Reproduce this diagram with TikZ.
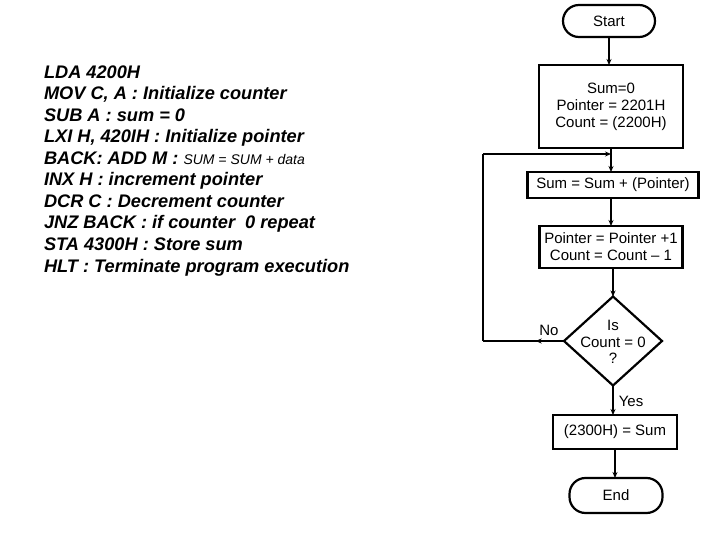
\documentclass[tikz,border=0pt]{standalone}
\usepackage{fontspec}
\setmainfont{Liberation Sans}
\usetikzlibrary{shapes.geometric,arrows.meta,decorations.markings}
\begin{document}
\begin{tikzpicture}[x=1pt,y=-1pt,
  every node/.style={inner sep=0pt,outer sep=0pt},
  code/.style={anchor=base west,font=\fontsize{18.2}{21}\selectfont\bfseries\itshape},
  blk/.style={draw,line width=2.2pt,align=center,font=\fontsize{15}{17}\selectfont,fill=white},
  term/.style={draw,line width=2.2pt,rounded corners=16pt,font=\fontsize{15}{17}\selectfont,fill=white},
  flow/.style={line width=1.4pt,-{Stealth[length=6pt,width=5pt]}},
  plain/.style={line width=1.4pt},
  lbl/.style={font=\fontsize{15}{17}\selectfont}]
\path[fill=white] (0,0) rectangle (720,540);
\useasboundingbox (0,0) rectangle (720,540);
% code listing
\node[code] (c1) at (44,78.5) {LDA 4200H};
\node[code] (c2) at (44,100) {MOV C, A : Initialize counter};
\node[code] (c3) at (44,121.5) {SUB A : sum = 0};
\node[code] (c4) at (44,143) {LXI H, 420IH : Initialize pointer};
\node[code] (c5) at (44,164.5) {BACK: ADD M : {\fontsize{14}{16}\selectfont\mdseries SUM = SUM + data}};
\node[code] (c6) at (44,186) {INX H : increment pointer};
\node[code] (c7) at (44,207.5) {DCR C : Decrement counter};
\node[code] (c8) at (44,229) {JNZ BACK : if counter\ \ 0 repeat};
\node[code] (c9) at (44,250.5) {STA 4300H : Store sum};
\node[code] (c10) at (44,272) {HLT : Terminate program execution};
% flowchart
\node[term,minimum width=92pt,minimum height=32pt] (start) at (609,21) {Start};
\node[blk,minimum width=144pt,minimum height=83pt] (init) at (611,106.5) {Sum=0\\Pointer = 2201H\\Count = (2200H)};
\node[blk,minimum width=171pt,minimum height=26pt] (add) at (613,185) {Sum = Sum + (Pointer)};
\node[blk,minimum width=143pt,minimum height=42pt] (inc) at (611,247) {Pointer = Pointer +1\\Count = Count -- 1};
\node[diamond,draw,line width=2.2pt,minimum width=98pt,minimum height=89pt,fill=white] (dec) at (613,341) {};
\node[align=center,font=\fontsize{15}{16.5}\selectfont] (dectext) at (613,342) {Is\\Count = 0\\?};
\node[blk,minimum width=124pt,minimum height=34pt] (store) at (615,432) {(2300H) = Sum};
\node[term,minimum width=93pt,minimum height=35pt] (end) at (616,495.5) {End};
\coordinate (join) at (611,154);
\coordinate (lb) at (483,341);
\coordinate (lt) at (483,154);
\draw[flow] (start.south) -- (start.south |- init.north);
\draw[plain] (init.south) -- (join);
\draw[flow] (join) -- (join |- add.north);
\draw[flow] (inc.north |- add.south) -- (inc.north);
\draw[flow] (dec.north |- inc.south) -- (dec.north);
\draw[plain,decoration={markings,mark=at position 0.35 with {\arrow{Stealth[length=6pt,width=5pt]}}},postaction={decorate}] (dec.west) -- (lb);
\draw[plain] (lb) -- (lt);
\draw[flow] (lt) -- (join);
\draw[flow] (dec.south) -- (dec.south |- store.north);
\draw[flow] (store.south) -- (store.south |- end.north);
\node[lbl] (no) at (549,330) {No};
\node[lbl] (yes) at (631,401) {Yes};
\end{tikzpicture}
\end{document}
